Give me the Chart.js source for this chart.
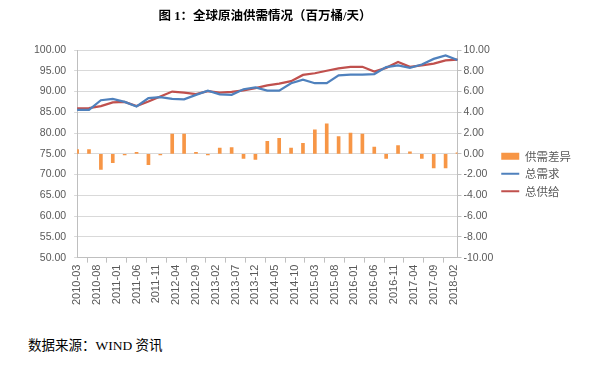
<!DOCTYPE html>
<html>
<head>
<meta charset="utf-8">
<script src="https://cdn.jsdelivr.net/npm/chart.js@4.4.0/dist/chart.umd.min.js"></script>
<style>
body { margin: 0; background: #fff; width: 595px; height: 367px; overflow: hidden; position: relative; }
#title { position: absolute; top: 5px; left: 0; width: 530px; text-align: center; font: bold 12.5px 'Liberation Serif', 'Noto Sans CJK SC'; color: #000; }
#wrap { position: absolute; left: 0; top: 0; }
#source { position: absolute; left: 28px; top: 334px; font: 13.5px 'Liberation Serif', 'Noto Sans CJK SC'; color: #000; }
</style>
</head>
<body>
<div id="wrap"><canvas id="oilChart" width="595" height="320"></canvas></div>
<div id="title">图 1：全球原油供需情况（百万桶/天）</div>
<div id="source">数据来源：WIND 资讯</div>
<script>
// quarterly points
const quarters = ['2010-03', '2010-06', '2010-09', '2010-12', '2011-03', '2011-06', '2011-09', '2011-12',
    '2012-03', '2012-06', '2012-09', '2012-12', '2013-03', '2013-06', '2013-09', '2013-12',
    '2014-03', '2014-06', '2014-09', '2014-12', '2015-03', '2015-06', '2015-09', '2015-12',
    '2016-03', '2016-06', '2016-09', '2016-12', '2017-03', '2017-06', '2017-09', '2017-12', '2018-03'];
const demand = [85.6, 85.6, 87.9, 88.25, 87.5, 86.4, 88.4, 88.65, 88.25, 88.1, 89.2, 90.2, 89.3, 89.2, 90.55, 91.0,
    90.2, 90.2, 92.0, 92.85, 92.0, 92.0, 93.9, 94.05, 94.05, 94.2, 95.9, 96.3, 95.7, 96.5, 97.85, 98.7, 97.6];
const supply = [85.95, 86.0, 86.5, 87.4, 87.5, 86.5, 87.6, 88.8, 90.0, 89.75, 89.4, 90.1, 89.75, 89.9, 90.3, 90.8,
    91.5, 91.9, 92.5, 94.0, 94.4, 95.0, 95.55, 95.95, 95.95, 94.8, 95.7, 97.1, 95.95, 96.3, 96.7, 97.5, 97.7];
const gap = [0.4, 0.4, -1.5, -0.85, -0.1, 0.15, -1.05, -0.1, 1.9, 1.9, 0.15, -0.1, 0.55, 0.6, -0.45, -0.55,
    1.2, 1.5, 0.55, 1.0, 2.3, 2.9, 1.65, 2.0, 1.9, 0.65, -0.45, 0.8, 0.2, -0.45, -1.35, -1.35, 0.1];
// labels shown on the x axis
const tickLabels = ['2010-03', '2010-08', '2011-01', '2011-06', '2011-11', '2012-04', '2012-09', '2013-02',
    '2013-07', '2013-12', '2014-05', '2014-10', '2015-03', '2015-08', '2016-01', '2016-06',
    '2016-11', '2017-04', '2017-09', '2018-02'];

// monthly axis, 2010-03 .. 2018-03
const months = [];
for (let y = 2010, m = 3; y * 100 + m <= 201803; m++) {
    if (m > 12) { m = 1; y++; }
    months.push(y + '-' + String(m).padStart(2, '0'));
}

const pts = vals => quarters.map((q, i) => ({ x: q, y: vals[i] }));
const axisGray = '#bfbfbf';
const tickFont = { family: "'Liberation Sans', Arial", size: 10.5 };

const ctx = document.getElementById('oilChart').getContext('2d');
const oilChart = new Chart(ctx, {
    data: {
        labels: months,
        datasets: [{
            type: 'bar',
            label: '供需差异',
            data: pts(gap),
            yAxisID: 'y1',
            backgroundColor: '#F79646',
            barThickness: 3
        }, {
            type: 'line',
            label: '总需求',
            data: pts(demand),
            yAxisID: 'y',
            borderColor: '#4F81BD',
            borderWidth: 2.25,
            pointRadius: 0,
            tension: 0
        }, {
            type: 'line',
            label: '总供给',
            data: pts(supply),
            yAxisID: 'y',
            borderColor: '#C0504D',
            borderWidth: 2.25,
            pointRadius: 0,
            tension: 0
        }]
    },
    options: {
        responsive: false,
        animation: false,
        devicePixelRatio: 1,
        layout: { padding: { left: 26, right: 14, top: 50, bottom: 13 } },
        plugins: {
            tooltip: { enabled: false },
            legend: {
                position: 'right',
                align: 'start',
                // empty title only pushes the entries down
                title: { display: true, text: ' ', font: { size: 12 }, padding: { top: 0, bottom: 80 } },
                labels: {
                    usePointStyle: true,
                    pointStyleWidth: 18,
                    padding: 6,
                    color: '#595959',
                    font: { family: "'Noto Sans CJK SC'", size: 11.5 },
                    generateLabels: chart => chart.data.datasets.map((ds, i) => ({
                        text: ds.label,
                        datasetIndex: i,
                        pointStyle: 'line',
                        strokeStyle: ds.type === 'bar' ? ds.backgroundColor : ds.borderColor,
                        fillStyle: ds.type === 'bar' ? ds.backgroundColor : ds.borderColor,
                        lineWidth: ds.type === 'bar' ? 7 : 2,
                        fontColor: '#595959'
                    }))
                }
            }
        },
        scales: {
            x: {
                type: 'category',
                offset: false,
                grid: { drawOnChartArea: false, tickLength: 5, color: axisGray },
                border: { color: axisGray },
                ticks: {
                    autoSkip: false,
                    maxRotation: 90,
                    minRotation: 90,
                    padding: 2,
                    color: '#595959',
                    font: { family: "'Liberation Sans', Arial", size: 11 },
                    callback: (v, i) => tickLabels.includes(months[i]) ? months[i] : null
                }
            },
            y: {
                position: 'left',
                min: 50,
                max: 100,
                ticks: { stepSize: 5, padding: 8, color: '#595959', font: tickFont, callback: v => v.toFixed(2) },
                grid: { color: '#d9d9d9', tickLength: 3 },
                border: { color: axisGray }
            },
            y1: {
                position: 'right',
                min: -10,
                max: 10,
                ticks: {
                    stepSize: 1, padding: 2, color: '#595959', font: tickFont,
                    callback: v => v % 2 === 0 ? v.toFixed(2) : ''
                },
                grid: { drawOnChartArea: false, tickLength: 4, color: axisGray },
                border: { color: axisGray }
            }
        }
    }
});
</script>
</body>
</html>
